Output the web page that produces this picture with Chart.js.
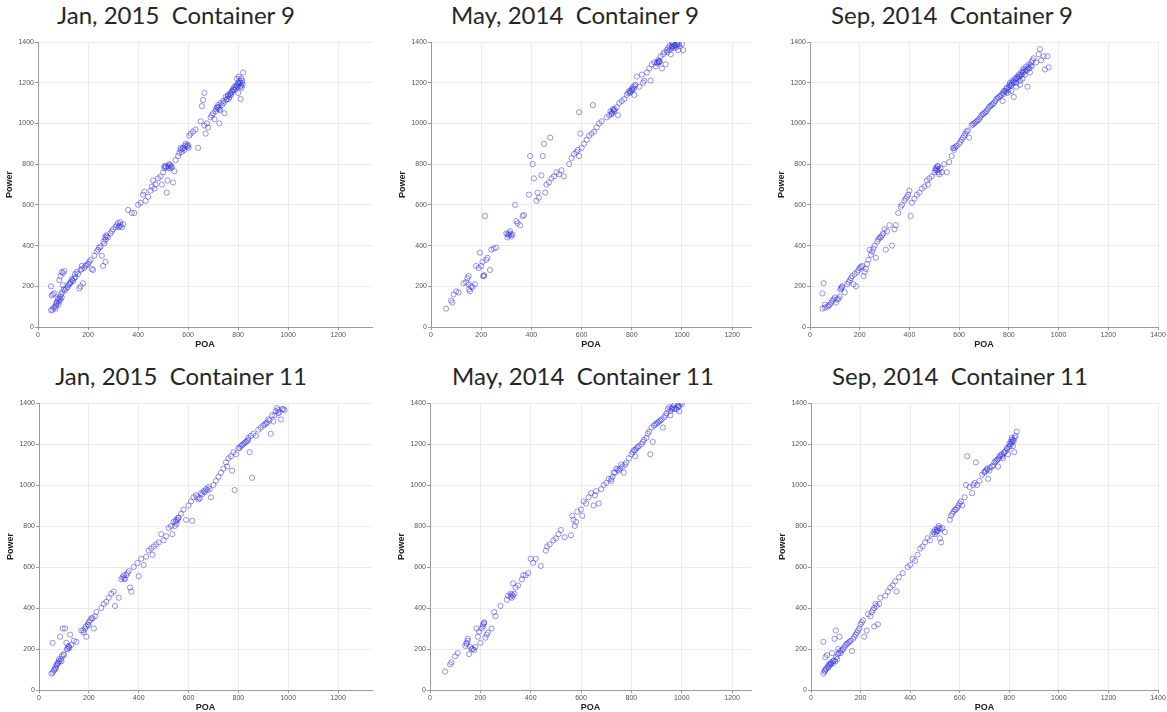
<!DOCTYPE html>
<html>
<head>
<meta charset="utf-8">
<script src="https://cdn.jsdelivr.net/npm/chart.js@4.4.1/dist/chart.umd.min.js"></script>
<style>
  body { margin: 0; background: #fff; width: 1167px; height: 712px; overflow: hidden; position: relative; }
  canvas { position: absolute; }
  .panel-title {
    position: absolute; transform: translateX(-50%);
    font-family: Lato, "Open Sans", sans-serif; font-size: 24px; line-height: 24px;
    color: #262626; white-space: pre;
  }
</style>
</head>
<body>
<script>
// [POA, Power] pairs
const jan2015Container9 = [[52,200],[55,155],[60,160],[65,165],[52,82],[58,85],[62,95],[70,90],[72,105],[75,120],[78,130],[80,140],[85,125],[88,150],[90,135],[95,145],[85,230],[90,250],[95,270],[100,265],[105,275],[100,205],[108,180],[112,190],[118,195],[125,210],[130,220],[135,235],[140,225],[145,240],[150,245],[165,190],[170,200],[180,215],[160,260],[170,280],[175,285],[185,290],[190,300],[200,310],[205,320],[215,285],[220,280],[225,350],[235,370],[240,380],[250,395],[255,350],[260,300],[265,410],[270,430],[275,445],[280,440],[270,320],[290,460],[295,470],[300,480],[310,490],[315,500],[320,510],[325,495],[330,500],[340,505],[360,575],[375,560],[385,560],[400,600],[410,610],[420,650],[425,665],[430,620],[440,640],[450,670],[455,690],[460,720],[465,680],[470,700],[480,730],[490,740],[495,700],[500,760],[505,780],[510,790],[515,660],[518,720],[520,790],[525,800],[530,780],[535,785],[540,710],[545,765],[550,820],[560,840],[565,855],[570,870],[575,860],[580,880],[585,870],[590,900],[595,885],[600,890],[605,940],[610,950],[620,960],[630,970],[640,880],[650,1010],[655,1085],[660,1115],[665,1150],[665,990],[670,950],[675,1000],[680,980],[690,1030],[695,1040],[700,1050],[705,1020],[710,1060],[715,1080],[720,1090],[725,1000],[725,1070],[730,1100],[740,1110],[745,1050],[750,1130],[755,1120],[760,1140],[765,1130],[770,1150],[775,1160],[780,1170],[785,1180],[790,1175],[795,1190],[800,1200],[800,1150],[805,1210],[808,1180],[810,1120],[812,1220],[815,1200],[818,1190],[820,1250],[802,1230],[795,1220],
  [68,100],[73,115],[82,110],[86,140],[92,160],[97,170],[103,185],[120,205],[128,215],[138,230],[148,260],[155,270],[175,300],[195,305],[210,330],[245,390],[262,420],[268,440],[272,450],[322,490],[328,515],[335,490],[505,790],[512,785],[522,780],[528,795],[532,790],[570,880],[578,875],[588,890],[598,895],[602,880],[712,1070],[718,1075],[722,1080],[728,1065],[735,1090],[742,1100],[752,1115],[758,1135],[762,1120],[768,1145],[772,1140],[778,1155],[782,1165],[788,1165],[792,1185],[798,1180],[803,1195],[807,1200],[811,1185],[814,1175],[816,1210]];

const may2014Container9 = [[60,90],[80,130],[85,120],[90,160],[100,175],[110,170],[130,215],[140,220],[145,240],[150,250],[155,175],[160,200],[165,195],[175,210],[180,300],[190,290],[195,365],[200,300],[205,320],[210,250],[215,545],[220,330],[225,340],[235,280],[240,380],[250,385],[260,390],[300,460],[305,440],[310,450],[315,470],[320,445],[325,455],[335,600],[340,520],[345,510],[355,500],[365,545],[370,550],[390,650],[395,840],[405,800],[410,730],[420,620],[425,660],[430,635],[440,745],[445,840],[450,900],[455,660],[460,700],[475,930],[470,710],[480,730],[490,740],[500,760],[510,750],[520,770],[530,740],[550,800],[560,830],[570,850],[580,860],[585,870],[590,1055],[595,950],[590,840],[600,880],[610,900],[620,920],[630,940],[640,950],[645,1090],[650,960],[660,980],[670,1000],[680,1010],[700,1030],[710,1040],[715,1060],[720,1050],[725,1070],[730,1060],[740,1080],[745,1040],[750,1100],[760,1110],[770,1120],[780,1140],[785,1150],[790,1160],[795,1155],[800,1170],[805,1180],[810,1140],[815,1190],[820,1230],[830,1180],[840,1240],[845,1200],[850,1210],[860,1250],[870,1270],[875,1210],[880,1290],[890,1300],[895,1280],[900,1300],[905,1310],[910,1300],[915,1330],[920,1270],[925,1340],[930,1350],[935,1290],[940,1360],[945,1370],[950,1380],[955,1340],[960,1380],[965,1390],[970,1370],[975,1385],[980,1395],[985,1360],[990,1380],[1000,1390],[1005,1360],[960,1400],
  [150,210],[152,185],[208,250],[212,255],[305,455],[312,460],[318,455],[720,1045],[722,1055],[728,1065],[732,1070],[792,1150],[798,1160],[802,1165],[808,1170],[812,1185],[902,1295],[906,1300],[908,1305],[912,1305],[958,1370],[962,1375],[968,1380],[972,1385],[978,1375],[982,1390],[988,1390],[950,1360],[942,1350]];

const sep2014Container9 = [[50,165],[55,215],[50,90],[60,95],[70,100],[80,110],[90,130],[100,145],[105,120],[110,135],[120,150],[125,190],[130,200],[140,170],[150,210],[160,230],[170,250],[175,210],[180,260],[185,200],[190,270],[200,290],[210,300],[215,250],[220,270],[225,285],[230,310],[240,380],[245,355],[250,370],[260,400],[265,340],[270,420],[280,440],[290,450],[300,480],[305,380],[310,470],[320,500],[330,400],[340,480],[345,500],[355,560],[365,590],[370,600],[380,620],[390,640],[400,670],[405,545],[410,610],[420,630],[430,650],[440,660],[450,680],[460,690],[470,720],[475,700],[480,730],[490,740],[500,760],[505,770],[510,780],[515,790],[520,750],[525,780],[530,760],[540,800],[550,760],[560,810],[570,840],[575,880],[580,870],[590,890],[600,900],[610,920],[620,940],[630,960],[640,930],[650,990],[660,1000],[670,1010],[680,1020],[690,1040],[700,1050],[710,1060],[720,1080],[730,1090],[740,1100],[750,1120],[760,1130],[770,1140],[775,1110],[780,1160],[790,1170],[795,1150],[800,1180],[805,1200],[810,1190],[815,1210],[820,1130],[825,1220],[830,1200],[835,1230],[840,1240],[845,1210],[850,1250],[855,1260],[860,1270],[865,1240],[870,1280],[875,1180],[880,1290],[885,1250],[890,1300],[895,1310],[900,1320],[910,1300],[920,1340],[925,1365],[930,1310],[940,1330],[955,1330],[960,1275],[945,1265],
  [60,110],[75,105],[85,120],[95,135],[115,140],[122,185],[128,195],[155,220],[165,240],[195,280],[205,295],[235,330],[255,385],[275,430],[285,440],[295,460],[385,630],[395,650],[505,780],[510,770],[512,790],[515,760],[518,775],[580,880],[585,885],[605,910],[615,930],[625,950],[635,965],[655,995],[665,1005],[675,1015],[685,1030],[695,1045],[705,1055],[715,1070],[725,1085],[735,1095],[745,1110],[755,1125],[765,1135],[775,1150],[780,1145],[785,1160],[790,1155],[792,1175],[798,1165],[802,1190],[808,1185],[812,1195],[818,1205],[822,1200],[828,1215],[832,1225],[838,1220],[842,1230],[848,1235],[852,1240],[858,1250],[862,1255],[868,1265],[872,1260],[878,1275],[882,1270],[888,1285],[892,1280],[855,1220],[845,1190],[830,1180],[810,1160]];

const jan2015Container11 = [[50,80],[55,230],[60,95],[65,110],[70,120],[75,130],[80,150],[85,260],[90,140],[95,300],[100,170],[105,300],[110,230],[115,200],[120,210],[125,270],[130,220],[140,240],[150,235],[170,290],[180,280],[185,300],[190,260],[195,320],[200,330],[210,350],[220,300],[225,360],[230,380],[250,400],[260,420],[270,430],[280,450],[290,470],[300,480],[305,410],[320,450],[330,540],[340,560],[345,540],[350,560],[360,580],[365,500],[370,480],[380,600],[395,620],[400,555],[410,640],[420,610],[430,650],[440,680],[450,690],[455,660],[460,700],[470,710],[480,720],[490,760],[500,730],[510,750],[520,790],[530,800],[535,760],[540,820],[550,830],[560,840],[570,860],[580,880],[590,830],[600,900],[610,920],[615,825],[620,940],[630,950],[640,930],[650,960],[660,970],[670,980],[680,990],[690,940],[700,1000],[710,1020],[720,1040],[730,1060],[740,1080],[750,1110],[755,1090],[760,1130],[770,1140],[775,1070],[780,1160],[785,975],[790,1150],[800,1180],[810,1190],[820,1200],[830,1210],[840,1220],[845,1160],[850,1240],[855,1035],[860,1250],[870,1240],[880,1270],[890,1280],[900,1290],[910,1300],[920,1320],[930,1250],[935,1340],[940,1310],[950,1360],[955,1375],[960,1350],[970,1320],[975,1370],[985,1365],
  [55,85],[62,100],[68,105],[72,125],[78,135],[82,140],[88,150],[92,165],[98,175],[112,200],[118,215],[122,205],[178,290],[188,310],[198,315],[205,340],[215,350],[335,550],[342,545],[355,570],[548,820],[552,810],[556,830],[545,800],[558,840],[635,940],[645,935],[655,955],[665,965],[675,975],[685,980],[805,1180],[815,1195],[825,1205],[835,1215],[840,1230],[905,1295],[915,1305],[925,1315],[945,1340],[965,1355],[960,1365],[980,1370]];

const may2014Container11 = [[60,90],[80,125],[85,135],[100,165],[110,180],[140,215],[145,230],[150,250],[155,175],[165,200],[175,195],[180,210],[185,300],[190,260],[195,285],[200,230],[210,310],[215,325],[220,255],[225,270],[230,280],[245,300],[255,380],[260,360],[280,410],[305,440],[310,460],[320,470],[325,450],[330,520],[340,500],[350,510],[365,540],[370,560],[380,560],[390,570],[400,640],[410,620],[420,640],[440,605],[460,680],[465,700],[475,710],[490,730],[500,740],[510,760],[520,780],[535,745],[560,755],[565,850],[570,830],[575,800],[580,820],[585,870],[600,880],[605,850],[610,920],[620,910],[630,940],[640,960],[650,900],[655,950],[660,970],[670,910],[680,980],[690,1000],[700,1010],[710,1030],[720,1020],[730,1060],[740,1080],[750,1070],[760,1100],[770,1060],[780,1110],[790,1130],[800,1150],[810,1170],[815,1140],[820,1180],[830,1190],[840,1200],[850,1220],[860,1230],[870,1260],[875,1150],[880,1280],[885,1210],[890,1290],[900,1300],[910,1310],[920,1320],[925,1280],[930,1330],[940,1350],[945,1370],[950,1380],[955,1340],[960,1375],[970,1390],[980,1370],[985,1380],[990,1360],[1000,1395],[995,1400],
  [145,225],[150,240],[160,210],[170,200],[205,300],[210,320],[215,330],[320,455],[325,465],[330,460],[335,470],[720,1030],[725,1040],[735,1060],[745,1075],[755,1080],[765,1090],[775,1100],[805,1160],[815,1170],[825,1185],[845,1210],[865,1250],[895,1295],[905,1305],[915,1315],[935,1340],[955,1360],[965,1380],[975,1375],[985,1390],[990,1385],[960,1370],[970,1370]];

const sep2014Container11 = [[50,235],[50,80],[55,90],[60,100],[65,170],[70,110],[75,120],[80,130],[85,180],[90,140],[95,250],[100,290],[105,150],[110,200],[115,260],[120,180],[130,200],[140,220],[150,230],[160,240],[165,190],[170,250],[180,270],[190,290],[200,320],[210,340],[215,260],[225,290],[240,360],[245,380],[250,390],[255,310],[260,420],[270,320],[280,450],[300,460],[310,480],[320,500],[330,510],[340,530],[345,480],[355,550],[370,570],[390,600],[400,610],[410,640],[420,630],[430,660],[440,690],[450,700],[460,720],[470,740],[480,730],[490,760],[500,780],[505,770],[510,790],[515,800],[520,740],[525,720],[530,790],[540,770],[560,830],[570,860],[575,870],[580,880],[590,890],[600,910],[605,920],[610,900],[620,940],[625,1000],[630,1140],[640,990],[650,960],[655,1000],[660,1010],[665,1110],[670,1000],[680,1020],[690,1050],[700,1060],[710,1080],[715,1030],[720,1070],[730,1090],[740,1110],[750,1120],[755,1090],[760,1140],[770,1150],[775,1130],[780,1160],[790,1180],[795,1150],[800,1200],[805,1210],[810,1230],[815,1220],[820,1160],[825,1240],[830,1260],[815,1190],
  [55,95],[58,160],[62,105],[68,115],[72,125],[78,125],[82,135],[88,130],[92,145],[98,140],[102,160],[108,175],[112,180],[118,190],[125,195],[135,210],[145,225],[155,235],[175,260],[185,280],[195,300],[205,330],[230,370],[255,400],[265,410],[275,420],[495,770],[500,760],[508,780],[512,775],[518,790],[522,785],[565,850],[585,880],[595,900],[700,1065],[705,1070],[712,1075],[722,1085],[735,1095],[745,1115],[752,1125],[758,1130],[765,1145],[772,1140],[778,1155],[785,1165],[792,1175],[798,1185],[802,1190],[808,1200],[812,1210],[818,1215],[822,1230],[810,1220]];

const panelTitles = ['Jan, 2015  Container 9', 'May, 2014  Container 9', 'Sep, 2014  Container 9',
                     'Jan, 2015  Container 11', 'May, 2014  Container 11', 'Sep, 2014  Container 11'];
const panelSeries = [jan2015Container9, may2014Container9, sep2014Container9,
                     jan2015Container11, may2014Container11, sep2014Container11];
const xAxisMax = [1335, 1275, 1400, 1336, 1275, 1400];
const yAxisMax = 1400;
const tickStep = 200;

// plot-area rectangles and title centres, measured on the picture
const boxes = [
  { l: 38,  t: 42,  r: 372,  b: 327, tx: 176, ty: 3 },
  { l: 431, t: 42,  r: 751,  b: 327, tx: 575, ty: 3 },
  { l: 810, t: 42,  r: 1158, b: 327, tx: 952, ty: 3 },
  { l: 39,  t: 403, r: 372,  b: 690, tx: 181, ty: 364 },
  { l: 430, t: 403, r: 751,  b: 690, tx: 583, ty: 364 },
  { l: 811, t: 403, r: 1158, b: 690, tx: 960, ty: 364 }
];

const padL = 40, padT = 6, padR = 9, padB = 26;

function zeroPad(s) {
  s.paddingLeft = 0; s.paddingRight = 0; s.paddingTop = 0; s.paddingBottom = 0;
}

boxes.forEach(function (box, i) {
  const t = document.createElement('div');
  t.className = 'panel-title';
  t.textContent = panelTitles[i];
  t.style.left = box.tx + 'px';
  t.style.top = box.ty + 'px';
  document.body.appendChild(t);

  const w = box.r - box.l + padL + padR;
  const h = box.b - box.t + padT + padB;
  const canvas = document.createElement('canvas');
  canvas.width = w; canvas.height = h;
  canvas.style.width = w + 'px'; canvas.style.height = h + 'px';
  canvas.style.left = (box.l - padL) + 'px';
  canvas.style.top = (box.t - padT) + 'px';
  document.body.appendChild(canvas);

  const tickFont = { family: 'Liberation Sans, Arial, sans-serif', size: 7 };
  const titleFont = { family: 'Liberation Sans, Arial, sans-serif', size: 9, weight: 'bold' };
  const plainNumber = v => String(v);

  new Chart(canvas.getContext('2d'), {
    type: 'scatter',
    data: {
      datasets: [{
        data: panelSeries[i].map(p => ({ x: p[0], y: p[1] })),
        borderColor: 'rgba(45, 45, 225, 0.5)',
        backgroundColor: 'rgba(0, 0, 0, 0)',
        pointRadius: 2.6,
        pointBorderWidth: 1
      }]
    },
    options: {
      responsive: false,
      animation: false,
      layout: { padding: { top: padT, right: padR, left: 0, bottom: 0 } },
      plugins: { legend: { display: false }, tooltip: { enabled: false } },
      scales: {
        x: {
          type: 'linear', min: 0, max: xAxisMax[i],
          ticks: { stepSize: tickStep, includeBounds: false, autoSkip: false, maxRotation: 0,
                   font: tickFont, color: '#555', padding: 1, callback: plainNumber },
          grid: { color: '#ececec', tickColor: '#999', tickLength: 3 },
          border: { color: '#9a9a9a' },
          title: { display: true, text: 'POA', font: titleFont, color: '#222', padding: { top: 0, bottom: 3 } },
          afterFit: s => { s.height = padB; zeroPad(s); }
        },
        y: {
          type: 'linear', min: 0, max: yAxisMax,
          ticks: { stepSize: tickStep, font: tickFont, color: '#555', padding: 1, callback: plainNumber },
          grid: { color: '#ececec', tickColor: '#999', tickLength: 3 },
          border: { color: '#9a9a9a' },
          title: { display: true, text: 'Power', font: titleFont, color: '#222', padding: { top: 6, bottom: 0 } },
          afterFit: s => { s.width = padL; zeroPad(s); }
        }
      }
    }
  });
});
</script>
</body>
</html>
